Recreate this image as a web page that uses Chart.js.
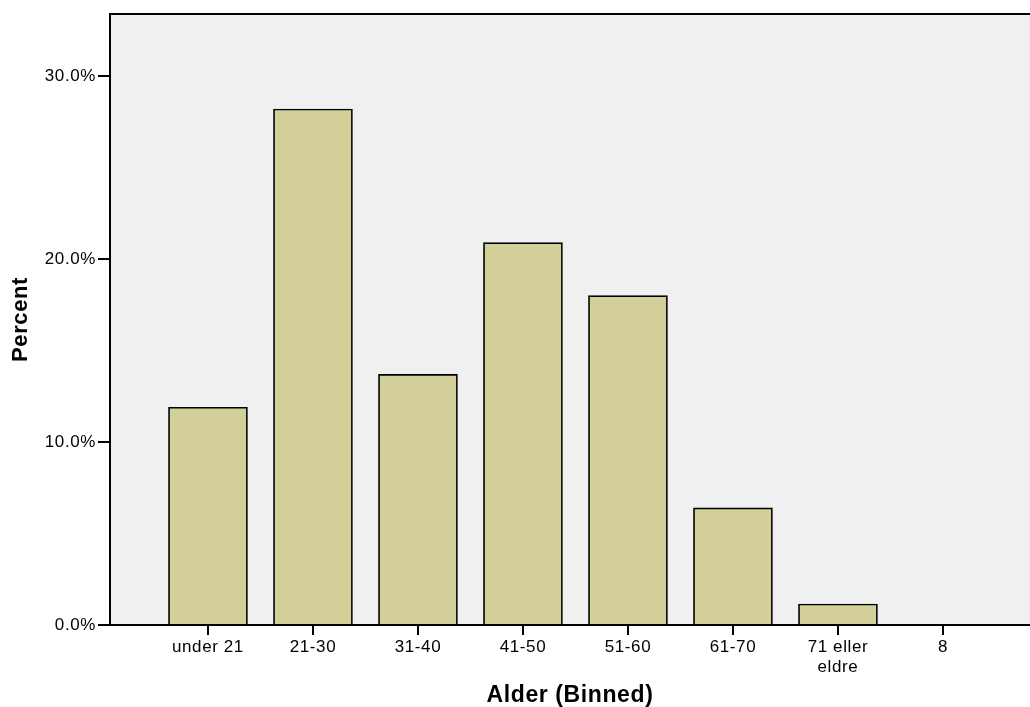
<!DOCTYPE html>
<html><head><meta charset="utf-8">
<script src="https://cdn.jsdelivr.net/npm/chart.js@4/dist/chart.umd.min.js"></script>
<style>html,body{margin:0;padding:0;background:#fff;overflow:hidden}#wrap{width:1030px;height:707px;position:relative}</style>
</head><body><div id="wrap"><canvas id="c"></canvas></div>
<script>
const categories = ["under 21", "21-30", "31-40", "41-50", "51-60", "61-70", ["71 eller", "eldre"], "8"];
const percentValues = [11.9, 28.2, 13.7, 20.9, 18.0, 6.4, 1.15, 0];
const yTickValues = [0, 10, 20, 30];
const xTitle = "Alder (Binned)";
const yTitle = "Percent";

const points = categories.map((c, i) => ({ x: i, y: percentValues[i] }));

function setSpacing(chart) { chart.ctx.letterSpacing = '0.6px'; }
const spacingPlugin = {
  id: 'spacing',
  beforeUpdate: setSpacing, beforeLayout: setSpacing, beforeDraw: setSpacing, resize: setSpacing
};
const framePlugin = {
  id: 'frame',
  beforeDraw(chart) {
    const a = chart.chartArea, ctx = chart.ctx;
    ctx.save();
    ctx.fillStyle = '#f0f0f0';
    ctx.fillRect(a.left, a.top, a.right - a.left, a.bottom - a.top);
    ctx.restore();
  },
  afterDraw(chart) {
    const a = chart.chartArea, ctx = chart.ctx;
    ctx.save();
    ctx.strokeStyle = '#000';
    ctx.lineWidth = 2;
    ctx.beginPath();
    ctx.moveTo(a.left - 1, a.top);
    ctx.lineTo(a.right, a.top);
    ctx.stroke();
    ctx.restore();
  }
};

const fam = "'Liberation Sans', Arial, sans-serif";
const font = { family: fam, size: 17 };

new Chart(document.getElementById('c'), {
  type: 'bar',
  data: {
    datasets: [{
      data: points,
      backgroundColor: '#d3cf98',
      borderColor: '#000',
      borderWidth: 1.7,
      barThickness: 79
    }]
  },
  options: {
    responsive: true,
    maintainAspectRatio: false,
    animation: false,
    layout: { padding: { top: 14, left: 0, right: 0, bottom: 0 } },
    plugins: { legend: { display: false }, tooltip: { enabled: false } },
    scales: {
      x: {
        type: 'linear',
        min: -0.933,
        max: 7.829,
        offset: false,
        grid: { offset: false, drawOnChartArea: false, drawTicks: true, tickLength: 10, color: '#000', lineWidth: 2 },
        border: { display: true, color: '#000', width: 2 },
        afterBuildTicks(scale) { scale.ticks = categories.map((c, i) => ({ value: i })); },
        afterFit(scale) { scale.height = 82; },
        ticks: {
          autoSkip: false, maxRotation: 0, minRotation: 0, padding: 2, color: '#000', font: font,
          callback: (v) => categories[v]
        },
        title: { display: true, text: xTitle, color: '#000', font: { family: fam, size: 23, weight: 'bold' }, padding: { top: 0, bottom: -2 } }
      },
      y: {
        min: 0,
        max: 33.39,
        grid: { drawOnChartArea: false, drawTicks: true, tickLength: 12, color: '#000', lineWidth: 2 },
        border: { display: true, color: '#000', width: 2 },
        afterBuildTicks(scale) { scale.ticks = yTickValues.map(v => ({ value: v })); },
        afterFit(scale) { scale.width = 110; },
        ticks: { padding: 2, color: '#000', font: font, callback: (v) => v.toFixed(1) + '%' },
        title: { display: true, text: yTitle, color: '#000', font: { family: fam, size: 22, weight: 'bold' }, padding: { top: 8, bottom: 0 } }
      }
    }
  },
  plugins: [spacingPlugin, framePlugin]
});
</script>
</body></html>
